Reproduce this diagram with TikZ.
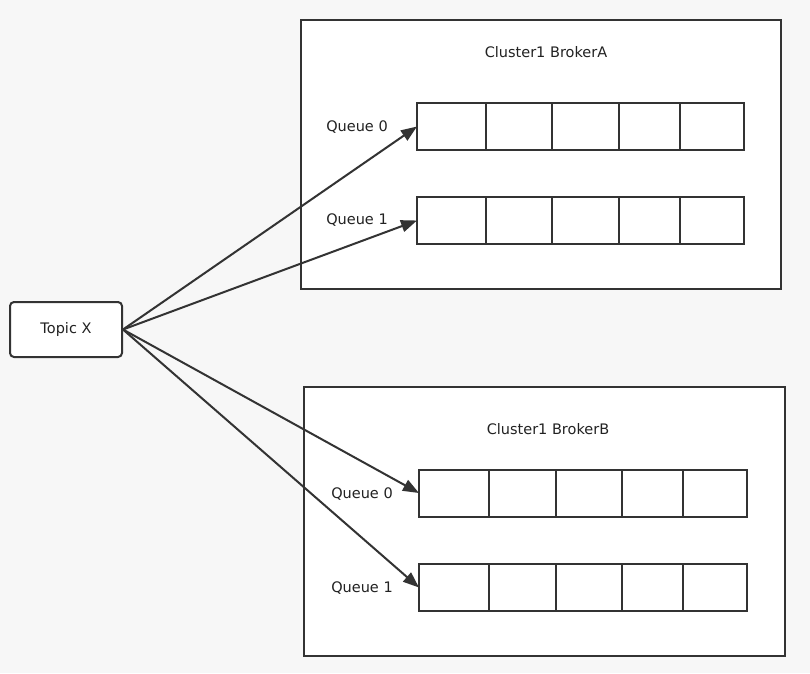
\documentclass[tikz,border=0pt]{standalone}
\usepackage{fontspec}
\setmainfont{DejaVu Sans}
\usetikzlibrary{arrows.meta}
\definecolor{bg}{HTML}{F7F7F7}
\definecolor{ln}{HTML}{333333}
\definecolor{tx}{HTML}{222222}
\tikzset{
  frame/.style={draw=ln, line width=2pt, fill=white},
  cell/.style={draw=ln, line width=2pt, fill=white},
  divider/.style={draw=ln, line width=2pt},
  lbl/.style={font=\fontsize{14.5}{16}\selectfont, text=tx},
  conn/.style={draw=ln, line width=2pt, -{Triangle[length=16pt,width=12pt]}},
}
\begin{document}
\begin{tikzpicture}[x=1pt,y=-1pt]
\path[fill=bg] (0,0) rectangle (810,673);
\useasboundingbox (0,0) rectangle (810,673);
% Topic X
\node[draw=ln, line width=2pt, fill=white, rounded corners=4pt, minimum width=112pt, minimum height=55pt, lbl] (topic) at (66,329.5) {Topic X};
% Broker A
\path[frame] (301,20) rectangle (781,289);
\node[lbl] (ta) at (546,52) {Cluster1 BrokerA};
\node[lbl] (la0) at (357,127) {Queue 0};
\node[lbl] (la1) at (357,220) {Queue 1};
\path[cell] (417,103) rectangle (744,150);
\foreach \x in {486,552,619,680} \draw[divider] (\x,103) -- (\x,150);
\coordinate (qa0) at (417,126.5);
\path[cell] (417,197) rectangle (744,244);
\foreach \x in {486,552,619,680} \draw[divider] (\x,197) -- (\x,244);
\coordinate (qa1) at (417,220.5);
% Broker B
\path[frame] (304,387) rectangle (785,656);
\node[lbl] (tb) at (548,429) {Cluster1 BrokerB};
\node[lbl] (lb0) at (362,494) {Queue 0};
\node[lbl] (lb1) at (362,588) {Queue 1};
\path[cell] (419,470) rectangle (747,517);
\foreach \x in {489,556,622,683} \draw[divider] (\x,470) -- (\x,517);
\coordinate (qb0) at (419,493);
\path[cell] (419,564) rectangle (747,611);
\foreach \x in {489,556,622,683} \draw[divider] (\x,564) -- (\x,611);
\coordinate (qb1) at (419,587.5);
% connectors
\coordinate (src) at (topic.east);
\draw[conn] (src) -- (qa0);
\draw[conn] (src) -- (qa1);
\draw[conn] (src) -- (qb0);
\draw[conn] (src) -- (qb1);
\end{tikzpicture}
\end{document}
